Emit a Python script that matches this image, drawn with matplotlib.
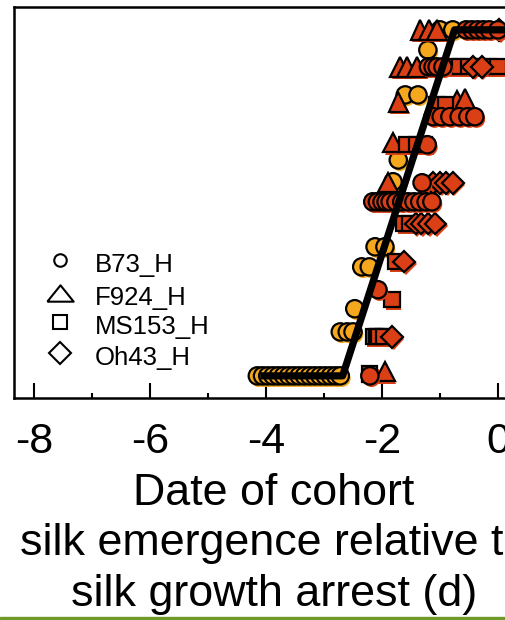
import matplotlib
matplotlib.use("Agg")
import matplotlib.pyplot as plt
import matplotlib.patheffects as pe
from matplotlib.patches import Rectangle

plt.rcParams['font.family'] = ['Liberation Sans', 'DejaVu Sans']
plt.rcParams['axes.unicode_minus'] = False

# yellow circles
yc_x = [-4.15, -4.06, -3.97, -3.88, -3.79, -3.70, -3.61, -3.52, -3.43, -3.34, -3.25,
        -3.16, -3.07, -2.98, -2.89, -2.80, -2.72,
        -2.72, -2.60, -2.50, -2.47, -2.35, -2.22, -2.12, -1.95, -1.81, -1.72,
        -1.60, -1.38, -1.21, -1.00, -0.78]
yc_y = [0, 0, 0, 0, 0, 0, 0, 0, 0, 0, 0, 0, 0, 0, 0, 0, 0,
        12.7, 12.7, 12.7, 19.4, 31.5, 31.5, 37.3, 37.3, 56.1, 62.4,
        81.2, 81.2, 94.2, 100, 100]

# red circles
rc_x = [-2.21, -2.07,
        -2.16, -2.08, -2.00, -1.93, -1.86, -1.76, -1.66, -1.55, -1.45, -1.35, -1.24, -1.14,
        -1.31, -1.22,
        -1.12, -0.98, -0.83, -0.67, -0.52, -0.40,
        -1.20, -1.12, -1.05, -0.95,
        -0.55, -0.45, -0.35, -0.25, -0.15, 0.00]
rc_y = [0, 24.9,
        50.3, 50.3, 50.3, 50.3, 50.3, 50.3, 50.3, 50.3, 50.3, 50.3, 50.3, 50.3,
        55.8, 66.8,
        74.9, 74.9, 74.9, 74.9, 74.9, 74.9,
        89.3, 89.3, 89.3, 89.3,
        100, 100, 100, 100, 100, 100]

# triangles
tri_x = [-1.95, -1.90, -1.81, -1.72, -0.71, -0.57, -1.69, -1.57, -1.40, -1.34, -1.19, -1.05]
tri_y = [1.2, 55.8, 67.5, 79.2, 79.5, 80.0, 89.3, 89.3, 89.3, 100, 100, 100]

# squares
sq_x = [-2.21, -2.15, -2.10, -2.05, -1.98, -1.83, -1.76, -1.62, -1.52, -1.57, -1.40, -1.27,
        -1.05, -0.90, -0.83, -0.66, -0.50, -0.33, -0.17, 0.00]
sq_y = [0.5, 11.3, 11.3, 11.3, 11.3, 22.0, 33.0, 44.0, 44.0, 66.8, 66.8, 66.8,
        78.3, 78.3, 89.3, 89.3, 89.3, 89.3, 89.3, 89.3]

# diamonds
dia_x = [-1.83, -1.62, -1.42, -1.32, -1.20, -1.08, -1.12, -1.00, -0.90, -0.78, -0.43, -0.28, 0.02]
dia_y = [11.3, 33.0, 44.0, 44.0, 44.0, 44.0, 55.8, 55.8, 55.8, 55.8, 89.3, 89.3, 100]

# fitted line
fit_x = [-4.10, -2.68, -0.75, 0.62]
fit_y = [0, 0, 100, 100]

labels = ['B73_H', 'F924_H', 'MS153_H', 'Oh43_H']

yellow = '#F5A71E'
red = '#DB3F16'

fig = plt.figure(figsize=(5.06, 6.2), dpi=100)
ax = fig.add_axes([14 / 506, 222 / 620, 520 / 506, 391 / 620])


def pts(x, y, m, ms, color):
    sh = [pe.SimplePatchShadow(offset=(1.2, -1.8), shadow_rgbFace=color, alpha=1), pe.Normal()]
    ax.plot(x, y, ls='none', marker=m, ms=ms, mfc=color, mec='black', mew=1.6,
            path_effects=sh, zorder=3)


pts(yc_x, yc_y, 'o', 12.5, yellow)
pts(tri_x, tri_y, '^', 14, red)
pts(sq_x, sq_y, 's', 11, red)
pts(dia_x, dia_y, 'D', 11, red)
pts(rc_x, rc_y, 'o', 12.5, red)

ax.plot(fit_x, fit_y, color='black', lw=5.2, solid_capstyle='butt', zorder=5)

ax.set_xlim(-8.345, 0.62)
ax.set_ylim(-6.4, 106.6)
ax.set_xticks([-8, -6, -4, -2, 0])
ax.set_xticks([-7, -5, -3, -1], minor=True)
ax.set_yticks([])
ax.tick_params(axis='x', which='major', direction='in', length=10.5, width=1.5,
               labelsize=31, pad=17)
ax.tick_params(axis='x', which='minor', direction='in', length=3.6, width=1.5)
for s in ax.spines.values():
    s.set_linewidth(1.8)

ax.set_xlabel('Date of cohort\nsilk emergence relative to\nsilk growth arrest (d)',
              fontsize=32.3, linespacing=1.3, labelpad=8)

# legend (open symbols)
leg_marks = [('o', 9), ('^', 19), ('s', 10.5), ('D', 11.5)]
leg_y = [0.353, 0.2685, 0.1944, 0.1151]
for (m, ms), lab, yy in zip(leg_marks, labels, leg_y):
    if m == '^':
        m = [(-1, -0.62), (1, -0.62), (0, 0.62), (-1, -0.62)]
    ax.plot([0.0885], [yy], transform=ax.transAxes, ls='none', marker=m, ms=ms,
            mfc='none', mec='black', mew=1.5, clip_on=False)
    ax.text(0.156, yy - 0.012, lab, transform=ax.transAxes, fontsize=18.5,
            va='center', ha='left')

fig.add_artist(Rectangle((0, 0), 1, 3 / 620, transform=fig.transFigure,
                         color='#6F9A2A', zorder=10))

fig.savefig('out.png', dpi=100)
